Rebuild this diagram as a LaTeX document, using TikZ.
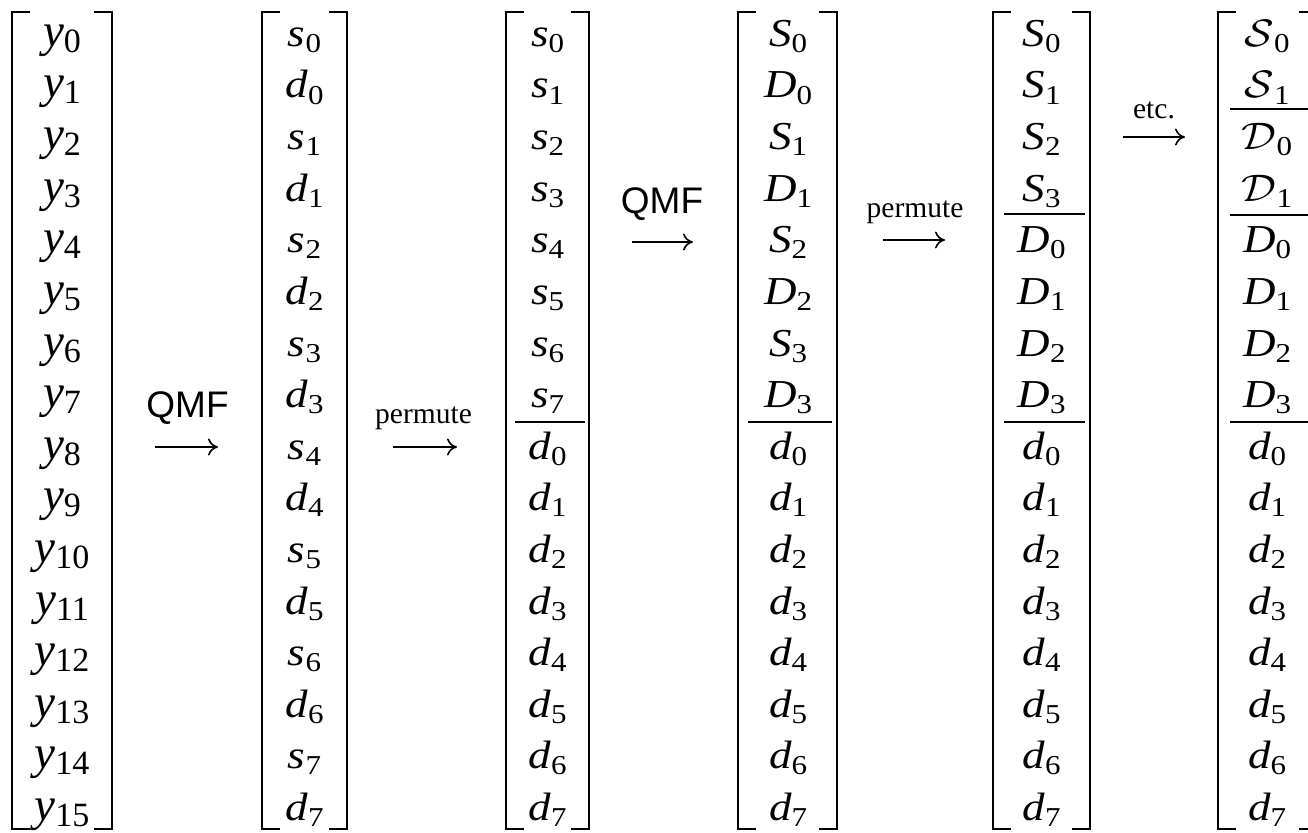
\documentclass[tikz,border=0pt]{standalone}
\usepackage{fontspec}
\setmainfont{Liberation Serif}
\newfontfamily\sansQ{Liberation Sans}
\usetikzlibrary{arrows.meta}
\newcommand{\Ya}[1]{{\fontsize{47}{47}\selectfont\itshape y}\raisebox{-6pt}{\fontsize{34}{34}\selectfont #1}}
\newcommand{\En}[2]{\scalebox{1}[0.88]{{\fontsize{45}{45}\selectfont\itshape #1}\raisebox{-7pt}{\fontsize{31}{31}\selectfont #2}}}
\newcommand{\Cal}[2]{\scalebox{1}[0.88]{\scalebox{1.75}{\fontsize{24.88}{25}\selectfont$\mathcal{#1}$}\raisebox{-7pt}{\fontsize{31}{31}\selectfont #2}}}
\begin{document}
\begin{tikzpicture}[x=1pt,y=-1pt,
  brk/.style={line width=2.8pt, line cap=butt, line join=miter},
  sep/.style={line width=1.4pt},
  arr/.style={line width=1.6pt, -{To[length=10pt,width=17pt]}},
  lab/.style={anchor=base, inner sep=0pt},
  ent/.style={anchor=base, inner sep=0pt}]
\useasboundingbox (0,0) rectangle (1308,832);
\clip (0,0) rectangle (1308,832);
% brackets
\foreach \L/\R in {12/112, 262/347, 506/589, 738/837, 993/1090, 1218/1317}{
  \draw[brk] ({\L+18},12) -- (\L,12) -- (\L,829) -- ({\L+18},829);
  \draw[brk] ({\R-18},12) -- (\R,12) -- (\R,829) -- ({\R-18},829);
}
% column 1
\foreach \i in {0,...,15}
  \node[ent] (a\i) at (62,{46.4+51.6*\i}) {\Ya{\i}};
% column 2
\foreach \l/\s [count=\i from 0] in {s/0,d/0,s/1,d/1,s/2,d/2,s/3,d/3,s/4,d/4,s/5,d/5,s/6,d/6,s/7,d/7}
  \node[ent] (b\i) at (304.5,{46.4+51.6*\i}) {\En{\l}{\s}};
% column 3
\foreach \l/\s [count=\i from 0] in {s/0,s/1,s/2,s/3,s/4,s/5,s/6,s/7,d/0,d/1,d/2,d/3,d/4,d/5,d/6,d/7}
  \node[ent] (c\i) at (547.5,{46.4+51.6*\i}) {\En{\l}{\s}};
% column 4
\foreach \l/\s [count=\i from 0] in {S/0,D/0,S/1,D/1,S/2,D/2,S/3,D/3,d/0,d/1,d/2,d/3,d/4,d/5,d/6,d/7}
  \node[ent] (e\i) at (788,{46.4+51.6*\i}) {\En{\l}{\s}};
% column 5
\foreach \l/\s [count=\i from 0] in {S/0,S/1,S/2,S/3,D/0,D/1,D/2,D/3,d/0,d/1,d/2,d/3,d/4,d/5,d/6,d/7}
  \node[ent] (f\i) at (1041.5,{46.4+51.6*\i}) {\En{\l}{\s}};
% column 6
\node[ent] (g0) at (1267,46.4) {\Cal{S}{0}};
\node[ent] (g1) at (1267,98) {\Cal{S}{1}};
\node[ent] (g2) at (1267,149.6) {\Cal{D}{0}};
\node[ent] (g3) at (1267,201.2) {\Cal{D}{1}};
\foreach \l/\s [count=\i from 4] in {D/0,D/1,D/2,D/3,d/0,d/1,d/2,d/3,d/4,d/5,d/6,d/7}
  \node[ent] (g\i) at (1267,{46.4+51.6*\i}) {\En{\l}{\s}};
% separators
\draw[sep] (515,422) -- (585,422);
\draw[sep] (748,422) -- (832,422);
\draw[sep] (1004,214) -- (1085,214);
\draw[sep] (1004,422) -- (1085,422);
\draw[sep] (1230,109) -- (1308,109);
\draw[sep] (1230,215) -- (1308,215);
\draw[sep] (1230,422) -- (1308,422);
% arrows and labels
\coordinate (q1s) at (155,447); \coordinate (q1e) at (218,447);
\draw[arr] (q1s) -- (q1e);
\node[lab,font=\sansQ\fontsize{37}{37}\selectfont] (q1) at (187.5,417) {QMF};
\coordinate (p1s) at (393,447); \coordinate (p1e) at (457,447);
\draw[arr] (p1s) -- (p1e);
\node[lab,font=\fontsize{29.5}{30}\selectfont] (p1) at (423.5,423) {permute};
\coordinate (q2s) at (632,242); \coordinate (q2e) at (693,242);
\draw[arr] (q2s) -- (q2e);
\node[lab,font=\sansQ\fontsize{37}{37}\selectfont] (q2) at (662,213) {QMF};
\coordinate (p2s) at (883,240); \coordinate (p2e) at (945,240);
\draw[arr] (p2s) -- (p2e);
\node[lab,font=\fontsize{29.5}{30}\selectfont] (p2) at (915,217) {permute};
\coordinate (t1s) at (1123,137); \coordinate (t1e) at (1185,137);
\draw[arr] (t1s) -- (t1e);
\node[lab,font=\fontsize{29.5}{30}\selectfont] (t1) at (1154,118) {etc.};
\end{tikzpicture}
\end{document}
